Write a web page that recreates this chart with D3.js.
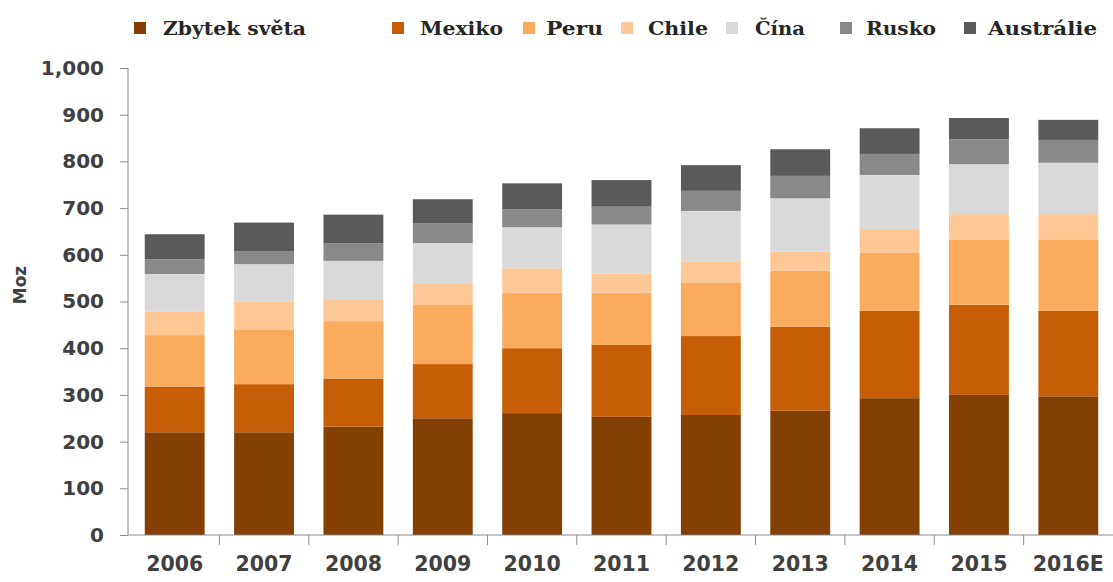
<!DOCTYPE html>
<html>
<head>
<meta charset="utf-8">
<script src="https://cdn.jsdelivr.net/npm/d3@7"></script>
<style>
  html, body { margin: 0; padding: 0; background: #fff; }
  svg { display: block; }
</style>
</head>
<body>
<svg id="chart" width="1113" height="582"></svg>
<script>
const years = ["2006","2007","2008","2009","2010","2011","2012","2013","2014","2015","2016E"];
const seriesNames = ["Zbytek světa","Mexiko","Peru","Chile","Čína","Rusko","Austrálie"];
const zbytek    = [220, 220, 232, 250, 261, 253, 257, 266, 293, 300, 297];
const mexiko    = [ 98, 103, 103, 116, 139, 154, 169, 180, 187, 193, 183];
const peru      = [110, 116, 123, 128, 119, 112, 115, 120, 125, 139, 153];
const chile     = [ 50,  61,  47,  45,  52,  41,  44,  41,  50,  55,  54];
const cina      = [ 81,  80,  82,  86,  88, 105, 109, 114, 116, 107, 110];
const rusko     = [ 31,  28,  38,  42,  38,  38,  43,  48,  45,  53,  49];
const australie = [ 54,  61,  61,  52,  56,  57,  55,  57,  55,  46,  43];
const yTicks = [0,100,200,300,400,500,600,700,800,900,1000];

const colors = ["#843f02","#c55e06","#fbab5e","#fdc896","#d9d9d9","#898989","#5a5a5a"];
const seriesValues = [zbytek, mexiko, peru, chile, cina, rusko, australie];

const rows = years.map((y, i) => {
  const r = {year: y};
  seriesNames.forEach((s, k) => r[s] = seriesValues[k][i]);
  return r;
});

const svg = d3.select("#chart");
const x = d3.scaleBand().domain(years).range([130, 1113]).paddingInner(0.33).paddingOuter(0.165);
const y = d3.scaleLinear().domain([0, 1000]).range([535, 68]);

const stack = d3.stack().keys(seriesNames)(rows);

svg.append("g").selectAll("g").data(stack).join("g")
  .attr("fill", (d, i) => colors[i])
  .selectAll("rect").data(d => d).join("rect")
  .attr("x", d => x(d.data.year))
  .attr("width", x.bandwidth())
  .attr("y", d => y(d[1]))
  .attr("height", d => y(d[0]) - y(d[1]));

// Y axis
const yAxis = svg.append("g").attr("transform", "translate(128,0)")
  .call(d3.axisLeft(y).tickValues(yTicks).tickSize(8).tickPadding(16).tickFormat(d3.format(",")));
yAxis.select(".domain").attr("stroke", "#8a8a8a").attr("d", "M0," + y(1000) + "V" + y(0));
yAxis.selectAll(".tick line").attr("stroke", "#8a8a8a");
yAxis.selectAll("text").attr("fill", "#404040")
  .style("font-family", "'DejaVu Sans', sans-serif").style("font-weight", "bold").style("font-size", "20px");

// X axis
const xAxis = svg.append("g").attr("transform", "translate(0,535)")
  .call(d3.axisBottom(x).tickSize(0).tickPadding(21));
xAxis.select(".domain").attr("stroke", "#8a8a8a").attr("d", "M128,0H1113");
xAxis.selectAll("text").attr("fill", "#404040")
  .style("font-family", "'DejaVu Sans', sans-serif").style("font-weight", "bold").style("font-size", "20.5px");
// separators between categories
svg.append("g").selectAll("line").data(years.slice(1)).join("line")
  .attr("x1", d => x(d) - x.step() * x.paddingInner() / 2)
  .attr("x2", d => x(d) - x.step() * x.paddingInner() / 2)
  .attr("y1", 535).attr("y2", 545)
  .attr("stroke", "#8a8a8a");

// Y title
svg.append("text")
  .attr("transform", "translate(26,285) rotate(-90)")
  .attr("text-anchor", "middle")
  .attr("fill", "#404040")
  .style("font-family", "'DejaVu Sans', sans-serif").style("font-weight", "bold").style("font-size", "17px")
  .text("Moz");

// Legend
const legendX = [134, 392, 523, 621, 726, 840, 964];
const legendTextX = [163, 420, 546, 648, 755, 866, 988];
const legendW = [143, 83, 57, 60, 50, 70, 109];
const lg = svg.append("g");
seriesNames.forEach((s, i) => {
  lg.append("rect").attr("x", legendX[i]).attr("y", 22).attr("width", 12).attr("height", 12).attr("fill", colors[i]);
  lg.append("text").attr("x", legendTextX[i]).attr("y", 35)
    .attr("fill", "#262626")
    .attr("textLength", legendW[i]).attr("lengthAdjust", "spacingAndGlyphs")
    .style("font-family", "'DejaVu Serif', serif").style("font-weight", "bold").style("font-size", "19px")
    .text(s);
});
</script>
</body>
</html>
